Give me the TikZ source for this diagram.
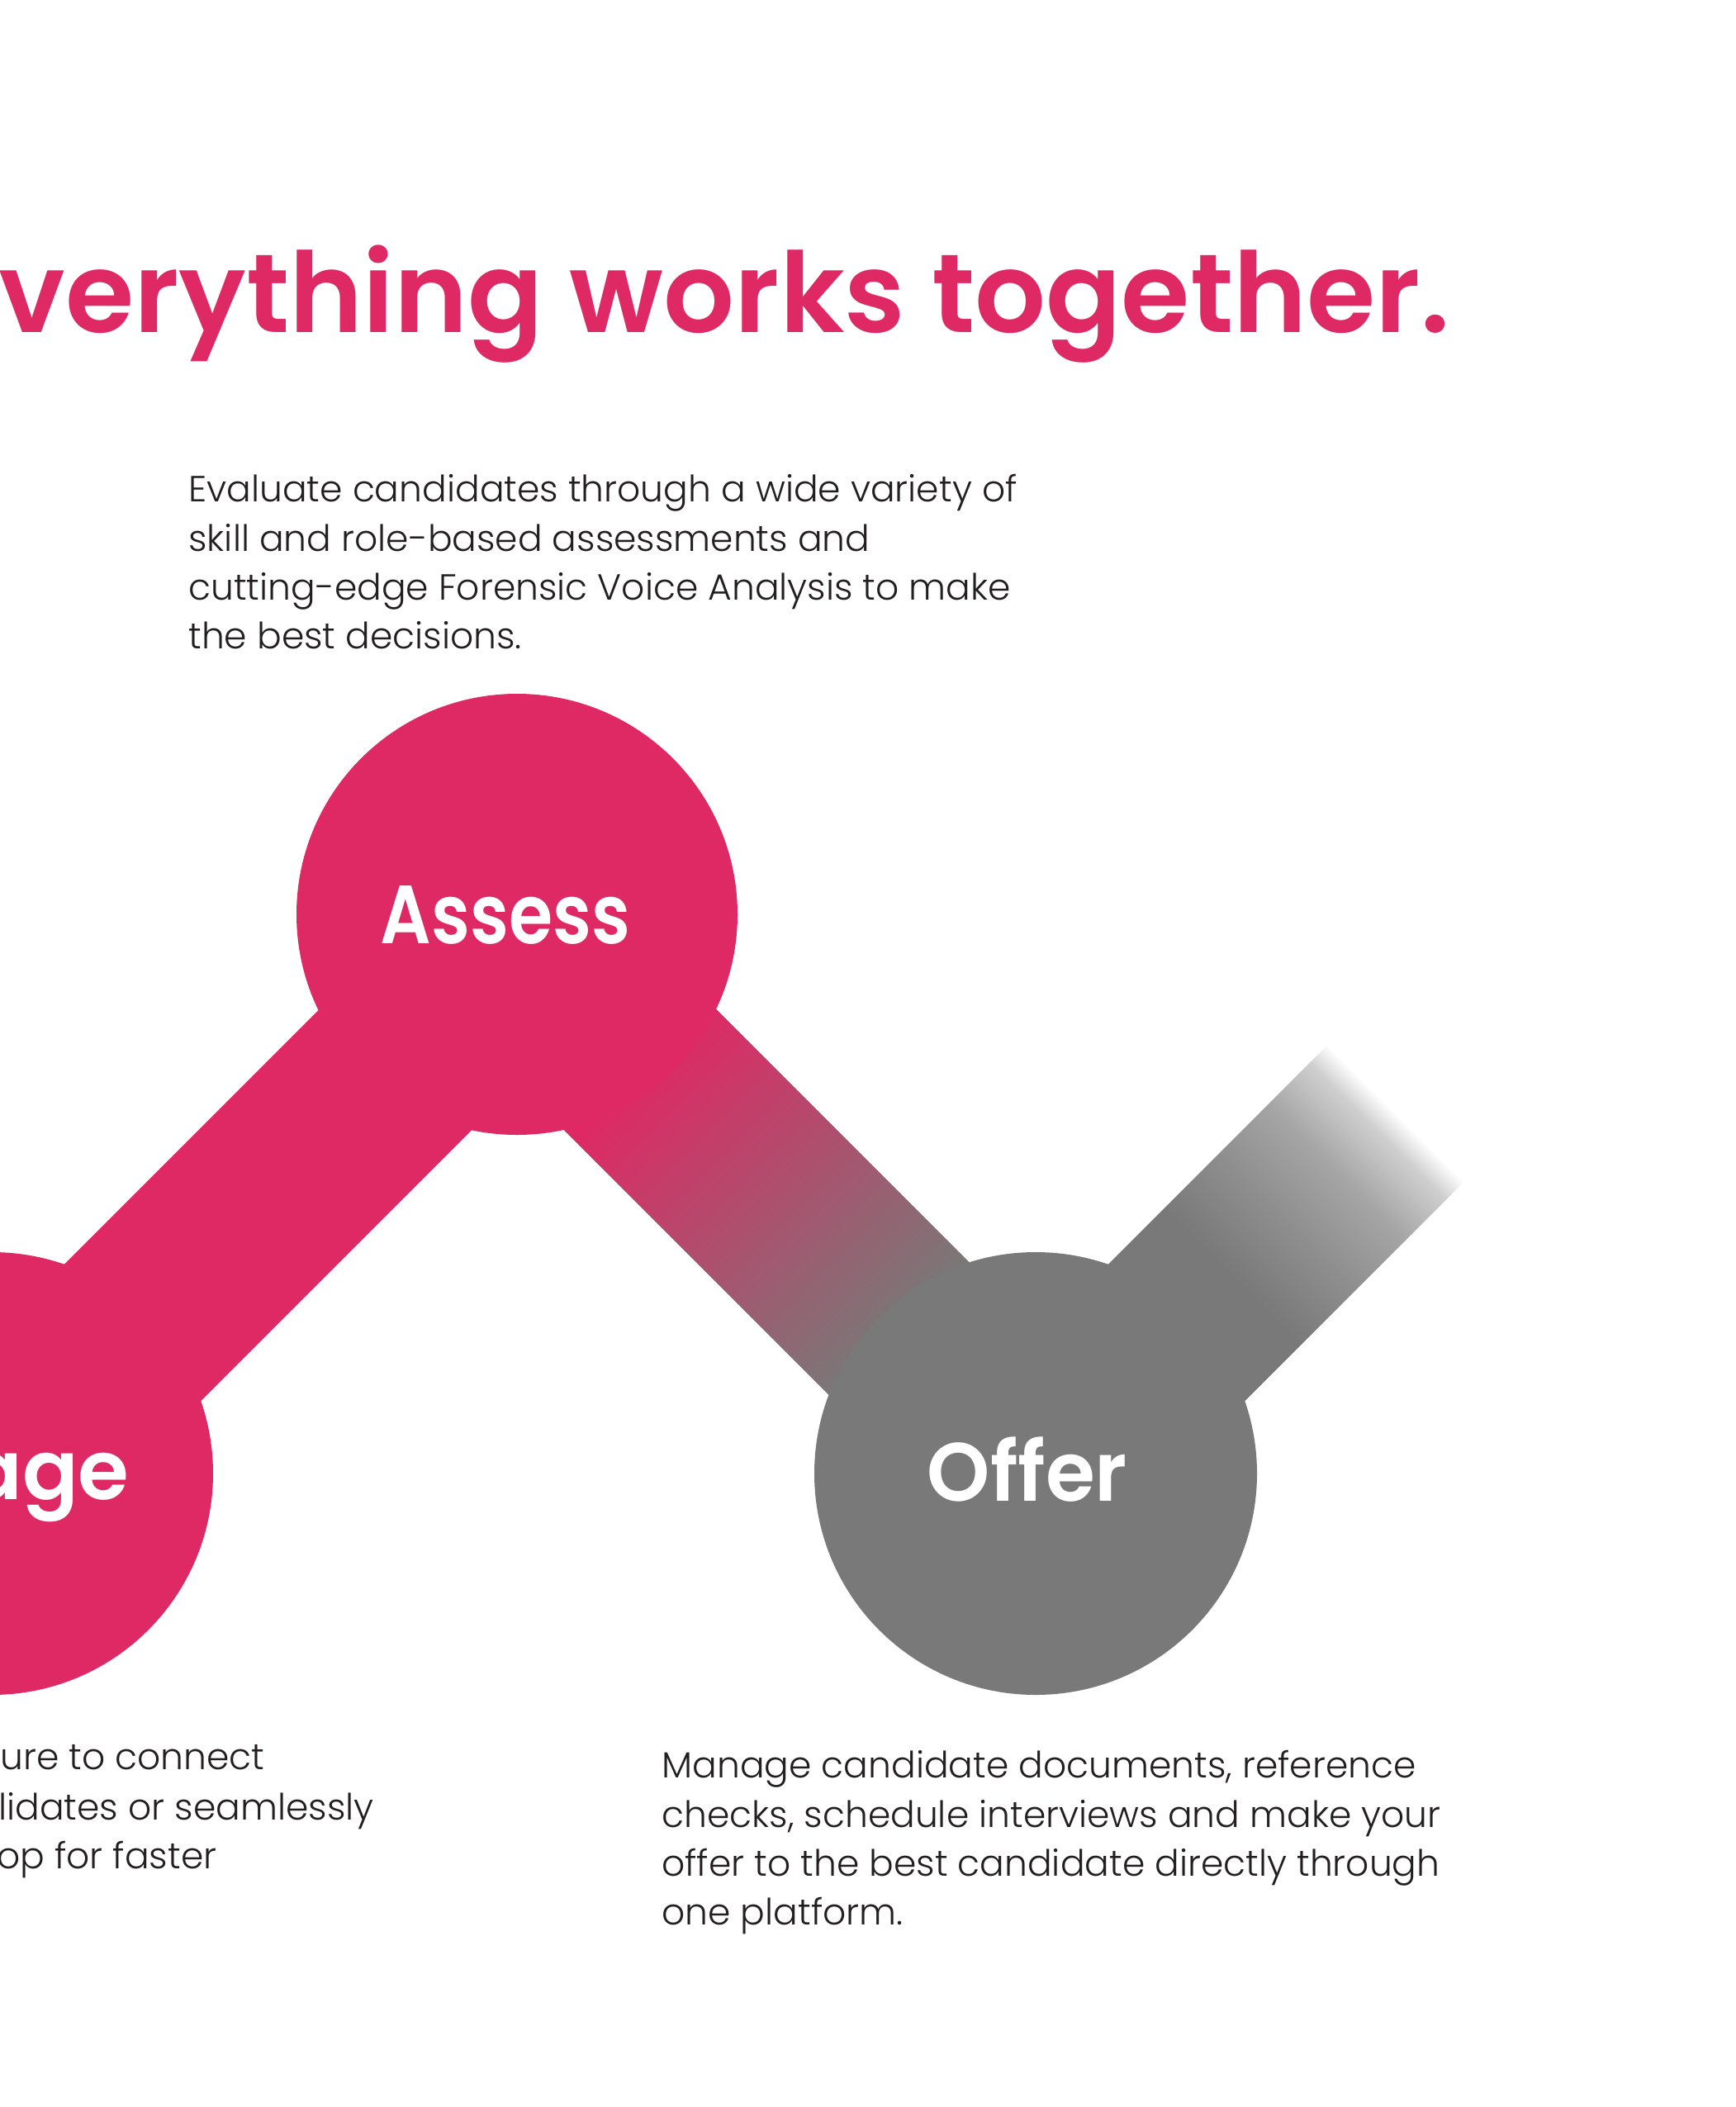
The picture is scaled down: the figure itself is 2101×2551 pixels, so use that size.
\documentclass[tikz,border=0pt]{standalone}
\usepackage{fontspec}
\setmainfont{Poppins Light}
\newfontfamily\headfont{Poppins SemiBold}
\definecolor{brandpink}{RGB}{222,41,101}
\definecolor{brandgray}{RGB}{120,121,120}
\definecolor{bodytext}{RGB}{35,31,32}
\definecolor{fadeA}{RGB}{140,140,140}
\definecolor{fadeB}{RGB}{165,165,165}
\definecolor{fadeC}{RGB}{207,207,207}
\pgfdeclarehorizontalshading{bandtwoshade}{100bp}{color(0bp)=(brandpink); color(37bp)=(brandpink); color(62bp)=(brandgray); color(100bp)=(brandgray)}
\pgfdeclarehorizontalshading{bandthreeshade}{100bp}{color(0bp)=(brandgray); color(52bp)=(brandgray); color(59bp)=(fadeA); color(66.75bp)=(fadeB); color(72.5bp)=(fadeC); color(75bp)=(white); color(100bp)=(white)}
\begin{document}
\begin{tikzpicture}[x=0.5pt,y=-0.5pt,
  stepcircle/.style={circle, inner sep=0pt, minimum size=268pt, draw=none},
  steplabel/.style={font=\headfont\fontsize{50}{60}\selectfont, text=white, inner sep=0pt, anchor=base},
  titletext/.style={font=\headfont\fontsize{67.4}{80}\selectfont, text=brandpink, inner sep=0pt, anchor=base west},
  bodyline/.style={font=\fontsize{22}{29.5}\selectfont, text=bodytext, inner sep=0pt, anchor=base west},
  solidband/.style={line width=117pt, line cap=butt}]
\useasboundingbox (0,0) rectangle (2101,2551);
\clip (0,0) rectangle (2101,2551);
\fill[white] (0,0) rectangle (2101,2551);

% path vertices
\coordinate (pE) at (-10,1784);
\coordinate (pV1) at (627,1147);
\coordinate (pV2) at (1259,1779);
\coordinate (pEnd) at (1690,1348);

% bands (connectors)
\draw[solidband, brandpink] (pE) -- (pV1);
\begin{scope}[transform canvas={shift={(pV1)}, rotate=-45}]
  \shade[shading=bandtwoshade] (0,-117) rectangle (893.8,117);
\end{scope}
\begin{scope}[transform canvas={shift={(pV2)}, rotate=45}]
  \shade[shading=bandthreeshade] (0,-117) rectangle (609.5,117);
\end{scope}

% circles
\node[stepcircle, fill=brandpink] (engage) at (-10,1784) {};
\node[stepcircle, fill=brandpink, minimum size=267pt] (assess) at (626,1107) {};
\node[stepcircle, fill=brandgray] (offer) at (1254,1784) {};

% circle labels
\node[steplabel] (assesslbl) at (612,1142) {\scalebox{0.86}[1]{Assess}};
\node[steplabel] (offerlbl) at (1244,1817) {\scalebox{0.97}[1]{Offer}};
\node[steplabel, anchor=base east] (engagelbl) at (157,1815) {age};

% title
\node[titletext] (title) at (-2,403) {verything works together.};

% top paragraph
\node[bodyline] (a1) at (228,608) {Evaluate candidates through a wide variety of};
\node[bodyline] (a2) at (228,667) {skill and role-based assessments and};
\node[bodyline] (a3) at (228,726) {cutting-edge Forensic Voice Analysis to make};
\node[bodyline] (a4) at (228,785) {the best decisions.};

% bottom-left paragraph
\node[bodyline] (e1) at (0,2142) {ure to connect};
\node[bodyline] (e2) at (-2,2203) {lidates or seamlessly};
\node[bodyline] (e3) at (-4,2262) {op for faster};

% bottom-right paragraph
\node[bodyline] (o1) at (801,2152) {Manage candidate documents, reference};
\node[bodyline] (o2) at (801,2212) {checks, schedule interviews and make your};
\node[bodyline] (o3) at (801,2271) {offer to the best candidate directly through};
\node[bodyline] (o4) at (801,2330) {one platform.};
\end{tikzpicture}
\end{document}
